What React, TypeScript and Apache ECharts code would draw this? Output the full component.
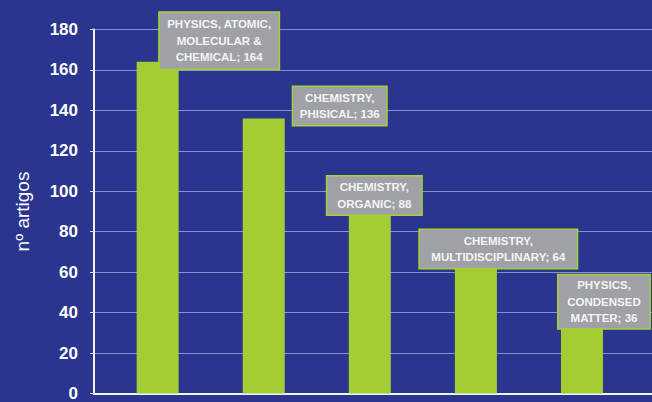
import { useEffect, useRef } from "react";
import * as echarts from "echarts";

// Articles per subject area
const categories = [
  "PHYSICS, ATOMIC,\nMOLECULAR &\nCHEMICAL",
  "CHEMISTRY,\nPHISICAL",
  "CHEMISTRY,\nORGANIC",
  "CHEMISTRY,\nMULTIDISCIPLINARY",
  "PHYSICS,\nCONDENSED\nMATTER",
];
const articleCounts = [164, 136, 88, 64, 36];

// Value axis ticks
const yMin = 0;
const yMax = 180;
const yStep = 20;
const yTitle = "nº artigos";

// Placement of each callout box, relative to the top centre of its bar
const calloutLayout = [
  { offset: [61.5, 7], width: 112, padV: 3.25 },
  { offset: [76, 6.5], width: 86, padV: 2.5 },
  { offset: [4.5, -1], width: 87, padV: 2.5 },
  { offset: [22.4, 4], width: 150, padV: 2.5 },
  { offset: [22, 7.5], width: 84, padV: 1.75 },
];

const BG = "#29358f";
const BAR = "#a3cd33";
const FONT = "'Liberation Sans', Arial, sans-serif";

export default function App() {
  const ref = useRef<HTMLDivElement>(null);

  useEffect(() => {
    if (!ref.current) return;
    const chart = echarts.init(ref.current, undefined, { renderer: "svg" });

    const data = articleCounts.map((v, i) => {
      const box = calloutLayout[i];
      return {
        value: [i + 1, v],
        label: {
          offset: box.offset,
          width: box.width,
          padding: [box.padV, 3.5, box.padV, 3.5],
        },
      };
    });

    chart.setOption({
      animation: false,
      backgroundColor: BG,
      grid: { left: 94, right: 0, top: 29.5, bottom: 3.7, containLabel: false },
      xAxis: {
        type: "value",
        min: 0.4,
        max: 5.66,
        axisLine: { show: true, onZero: false, lineStyle: { color: "#f2f2fa", width: 2 } },
        axisTick: { show: false },
        axisLabel: { show: false },
        splitLine: { show: false },
      },
      yAxis: {
        type: "value",
        min: yMin,
        max: yMax,
        interval: yStep,
        name: yTitle,
        nameLocation: "middle",
        nameGap: 62,
        nameTextStyle: { color: "#ffffff", fontSize: 19, fontFamily: FONT },
        axisLine: { show: true, lineStyle: { color: "#f2f2fa", width: 2 } },
        axisTick: { show: true, length: 4, lineStyle: { color: "#d8daf0", width: 1 } },
        axisLabel: {
          margin: 16,
          color: "#ffffff",
          fontSize: 17,
          fontWeight: "bold",
          fontFamily: FONT,
        },
        splitLine: { show: true, lineStyle: { color: "rgba(215,220,250,0.55)", width: 1 } },
      },
      series: [
        {
          type: "bar",
          barWidth: 42,
          itemStyle: { color: BAR },
          data,
          label: {
            show: true,
            position: "top",
            distance: 0,
            formatter: (p: any) => `${categories[p.dataIndex]}; ${articleCounts[p.dataIndex]}`,
            color: "#f4f4f4",
            fontFamily: FONT,
            fontWeight: "bold",
            fontSize: 11.5,
            lineHeight: 16.5,
            align: "center",
            overflow: "none",
            backgroundColor: "#a0a1a7",
            borderColor: "#a6d230",
            borderWidth: 1.5,
          },
        },
      ],
    });

    return () => chart.dispose();
  }, []);

  return (
    <div
      ref={ref}
      style={{ position: "fixed", left: 0, top: 0, width: 652, height: 402 }}
    />
  );
}
